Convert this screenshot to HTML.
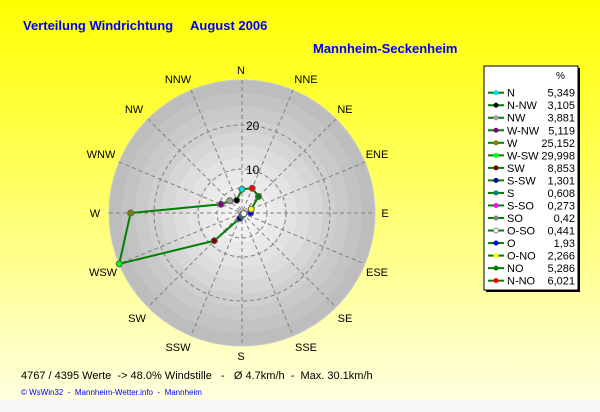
<!DOCTYPE html>
<html><head><meta charset="utf-8"><style>
html,body{margin:0;padding:0;width:600px;height:412px;overflow:hidden;}
svg{display:block;font-family:"Liberation Sans",sans-serif;}
text{white-space:pre;}
</style></head><body>
<svg width="600" height="412" viewBox="0 0 600 412" xmlns="http://www.w3.org/2000/svg">
<defs>
<linearGradient id="bg" x1="0" y1="0" x2="0" y2="1">
<stop offset="0" stop-color="#ffff00"/>
<stop offset="0.45" stop-color="#ffff60"/>
<stop offset="1" stop-color="#ffffe0"/>
</linearGradient>
</defs>
<rect x="0" y="0" width="600" height="400" fill="url(#bg)"/>
<rect x="0" y="400" width="600" height="12" fill="#f6f6f6"/>
<text x="23" y="30" font-size="13" font-weight="bold" fill="#0000ff">Verteilung Windrichtung</text>
<text x="190" y="30" font-size="13" font-weight="bold" fill="#0000ff">August 2006</text>
<text x="313" y="53" font-size="13" font-weight="bold" fill="#0000ff">Mannheim-Seckenheim</text>

<g>
<circle cx="242" cy="213" r="133" fill="#bdbdbd" stroke="#c8c8d0" stroke-width="1"/>
<circle cx="242" cy="213" r="120" fill="#c3c3c3"/>
<circle cx="242" cy="213" r="107" fill="#c9c9c9"/>
<circle cx="242" cy="213" r="94" fill="#cfcfcf"/>
<circle cx="242" cy="213" r="81" fill="#d6d6d6"/>
<circle cx="242" cy="213" r="68" fill="#dddddd"/>
<circle cx="242" cy="213" r="55" fill="#e3e3e3"/>
<circle cx="242" cy="213" r="42" fill="#e9e9e9"/>
<circle cx="242" cy="213" r="29" fill="#efefef"/>
<circle cx="242" cy="213" r="16" fill="#f4f4f4"/>
<g fill="none" stroke="#808080" stroke-width="1" stroke-dasharray="4,3">
<circle cx="242" cy="213" r="25"/>
<circle cx="242" cy="213" r="44"/>
<circle cx="242" cy="213" r="88"/>
<line x1="242" y1="80" x2="242" y2="346"/>
<line x1="109" y1="213" x2="375" y2="213"/>
<line x1="148" y1="119" x2="336" y2="307"/>
<line x1="336" y1="119" x2="148" y2="307"/>
<line x1="191" y1="90" x2="293" y2="336"/>
<line x1="293" y1="90" x2="191" y2="336"/>
<line x1="119" y1="162" x2="365" y2="264"/>
<line x1="365" y1="162" x2="119" y2="264"/>
</g>
<text x="246" y="130" font-size="12" fill="#000">20</text>
<text x="246" y="174" font-size="12" fill="#000">10</text>
</g>

<g font-size="11" fill="#000" text-anchor="middle">
<text x="241" y="74">N</text>
<text x="306" y="83">NNE</text>
<text x="345" y="113">NE</text>
<text x="377" y="158">ENE</text>
<text x="385" y="217">E</text>
<text x="377" y="276">ESE</text>
<text x="345" y="322">SE</text>
<text x="306" y="351">SSE</text>
<text x="241" y="360">S</text>
<text x="178" y="351">SSW</text>
<text x="137" y="322">SW</text>
<text x="103" y="276">WSW</text>
<text x="95" y="217">W</text>
<text x="101" y="158">WNW</text>
<text x="134" y="113">NW</text>
<text x="178" y="83">NNW</text>
</g>

<polyline fill="none" stroke="#008000" stroke-width="2" points="242,189.3 236.7,200.3 229.8,200.8 221,204.3 130.6,213 119.2,263.9 214.3,240.7 239.8,218.3 242,215.7 242.5,214.1 243.3,214.3 243.8,213.7 250.6,213 251.2,209.2 258.5,196.5 252.2,188.3 242,189.3"/>
<g stroke-width="1" stroke="#606060">
<circle cx="242" cy="189.3" r="3" fill="#00e0e0"/>
<circle cx="236.7" cy="200.3" r="3" fill="#000"/>
<circle cx="229.8" cy="200.8" r="3" fill="#a0a0a0"/>
<circle cx="221" cy="204.3" r="3" fill="#800080"/>
<circle cx="130.6" cy="213" r="3" fill="#808000"/>
<circle cx="119.2" cy="263.9" r="3" fill="#00ff00"/>
<circle cx="214.3" cy="240.7" r="3" fill="#800000"/>
<circle cx="239.8" cy="218.3" r="3" fill="#000080"/>
<circle cx="242" cy="215.7" r="3" fill="#008080"/>
<circle cx="242.5" cy="214.1" r="3" fill="#ff00ff"/>
<circle cx="243.3" cy="214.3" r="3" fill="#808080"/>
<circle cx="243.8" cy="213.7" r="3" fill="#fff"/>
<circle cx="250.6" cy="213" r="3" fill="#0000ff"/>
<circle cx="251.2" cy="209.2" r="3" fill="#ffff00"/>
<circle cx="258.5" cy="196.5" r="3" fill="#008000"/>
<circle cx="252.2" cy="188.3" r="3" fill="#ff0000"/>
</g>

<rect x="486" y="68" width="94" height="224" fill="#000"/>
<rect x="484" y="66" width="94" height="224" fill="#fff" stroke="#000" stroke-width="1"/>
<text x="556" y="79" font-size="10" fill="#000">%</text>
<g font-size="11" fill="#000">
<g><line x1="488" y1="92.7" x2="504" y2="92.7" stroke="#008000" stroke-width="2"/><circle cx="496" cy="92.7" r="2.5" fill="#00e0e0"/><text x="507" y="96.7">N</text><text x="575" y="96.7" text-anchor="end">5,349</text></g>
<g transform="translate(0,12.53)"><line x1="488" y1="92.7" x2="504" y2="92.7" stroke="#008000" stroke-width="2"/><circle cx="496" cy="92.7" r="2.5" fill="#000"/><text x="507" y="96.7">N-NW</text><text x="575" y="96.7" text-anchor="end">3,105</text></g>
<g transform="translate(0,25.06)"><line x1="488" y1="92.7" x2="504" y2="92.7" stroke="#008000" stroke-width="2"/><circle cx="496" cy="92.7" r="2.5" fill="#a0a0a0"/><text x="507" y="96.7">NW</text><text x="575" y="96.7" text-anchor="end">3,881</text></g>
<g transform="translate(0,37.59)"><line x1="488" y1="92.7" x2="504" y2="92.7" stroke="#008000" stroke-width="2"/><circle cx="496" cy="92.7" r="2.5" fill="#800080"/><text x="507" y="96.7">W-NW</text><text x="575" y="96.7" text-anchor="end">5,119</text></g>
<g transform="translate(0,50.12)"><line x1="488" y1="92.7" x2="504" y2="92.7" stroke="#008000" stroke-width="2"/><circle cx="496" cy="92.7" r="2.5" fill="#808000"/><text x="507" y="96.7">W</text><text x="575" y="96.7" text-anchor="end">25,152</text></g>
<g transform="translate(0,62.65)"><line x1="488" y1="92.7" x2="504" y2="92.7" stroke="#008000" stroke-width="2"/><circle cx="496" cy="92.7" r="2.5" fill="#00ff00"/><text x="507" y="96.7">W-SW</text><text x="575" y="96.7" text-anchor="end">29,998</text></g>
<g transform="translate(0,75.18)"><line x1="488" y1="92.7" x2="504" y2="92.7" stroke="#008000" stroke-width="2"/><circle cx="496" cy="92.7" r="2.5" fill="#800000"/><text x="507" y="96.7">SW</text><text x="575" y="96.7" text-anchor="end">8,853</text></g>
<g transform="translate(0,87.71)"><line x1="488" y1="92.7" x2="504" y2="92.7" stroke="#008000" stroke-width="2"/><circle cx="496" cy="92.7" r="2.5" fill="#000080"/><text x="507" y="96.7">S-SW</text><text x="575" y="96.7" text-anchor="end">1,301</text></g>
<g transform="translate(0,100.24)"><line x1="488" y1="92.7" x2="504" y2="92.7" stroke="#008000" stroke-width="2"/><circle cx="496" cy="92.7" r="2.5" fill="#008080"/><text x="507" y="96.7">S</text><text x="575" y="96.7" text-anchor="end">0,608</text></g>
<g transform="translate(0,112.77)"><line x1="488" y1="92.7" x2="504" y2="92.7" stroke="#008000" stroke-width="2"/><circle cx="496" cy="92.7" r="2.5" fill="#ff00ff"/><text x="507" y="96.7">S-SO</text><text x="575" y="96.7" text-anchor="end">0,273</text></g>
<g transform="translate(0,125.3)"><line x1="488" y1="92.7" x2="504" y2="92.7" stroke="#008000" stroke-width="2"/><circle cx="496" cy="92.7" r="2.5" fill="#808080"/><text x="507" y="96.7">SO</text><text x="575" y="96.7" text-anchor="end">0,42</text></g>
<g transform="translate(0,137.83)"><line x1="488" y1="92.7" x2="504" y2="92.7" stroke="#008000" stroke-width="2"/><circle cx="496" cy="92.7" r="2.5" fill="#fff" stroke="#808080"/><text x="507" y="96.7">O-SO</text><text x="575" y="96.7" text-anchor="end">0,441</text></g>
<g transform="translate(0,150.36)"><line x1="488" y1="92.7" x2="504" y2="92.7" stroke="#008000" stroke-width="2"/><circle cx="496" cy="92.7" r="2.5" fill="#0000ff"/><text x="507" y="96.7">O</text><text x="575" y="96.7" text-anchor="end">1,93</text></g>
<g transform="translate(0,162.89)"><line x1="488" y1="92.7" x2="504" y2="92.7" stroke="#008000" stroke-width="2"/><circle cx="496" cy="92.7" r="2.5" fill="#ffff00"/><text x="507" y="96.7">O-NO</text><text x="575" y="96.7" text-anchor="end">2,266</text></g>
<g transform="translate(0,175.42)"><line x1="488" y1="92.7" x2="504" y2="92.7" stroke="#008000" stroke-width="2"/><circle cx="496" cy="92.7" r="2.5" fill="#008000"/><text x="507" y="96.7">NO</text><text x="575" y="96.7" text-anchor="end">5,286</text></g>
<g transform="translate(0,187.95)"><line x1="488" y1="92.7" x2="504" y2="92.7" stroke="#008000" stroke-width="2"/><circle cx="496" cy="92.7" r="2.5" fill="#ff0000"/><text x="507" y="96.7">N-NO</text><text x="575" y="96.7" text-anchor="end">6,021</text></g>
</g>

<text x="21" y="379" font-size="11" fill="#000">4767 / 4395 Werte  -&gt; 48.0% Windstille   -   Ø 4.7km/h  -  Max. 30.1km/h</text>
<text x="21" y="395" font-size="8" fill="#0000ff">© WsWin32  -  Mannheim-Wetter.info  -  Mannheim</text>
</svg>
</body></html>
